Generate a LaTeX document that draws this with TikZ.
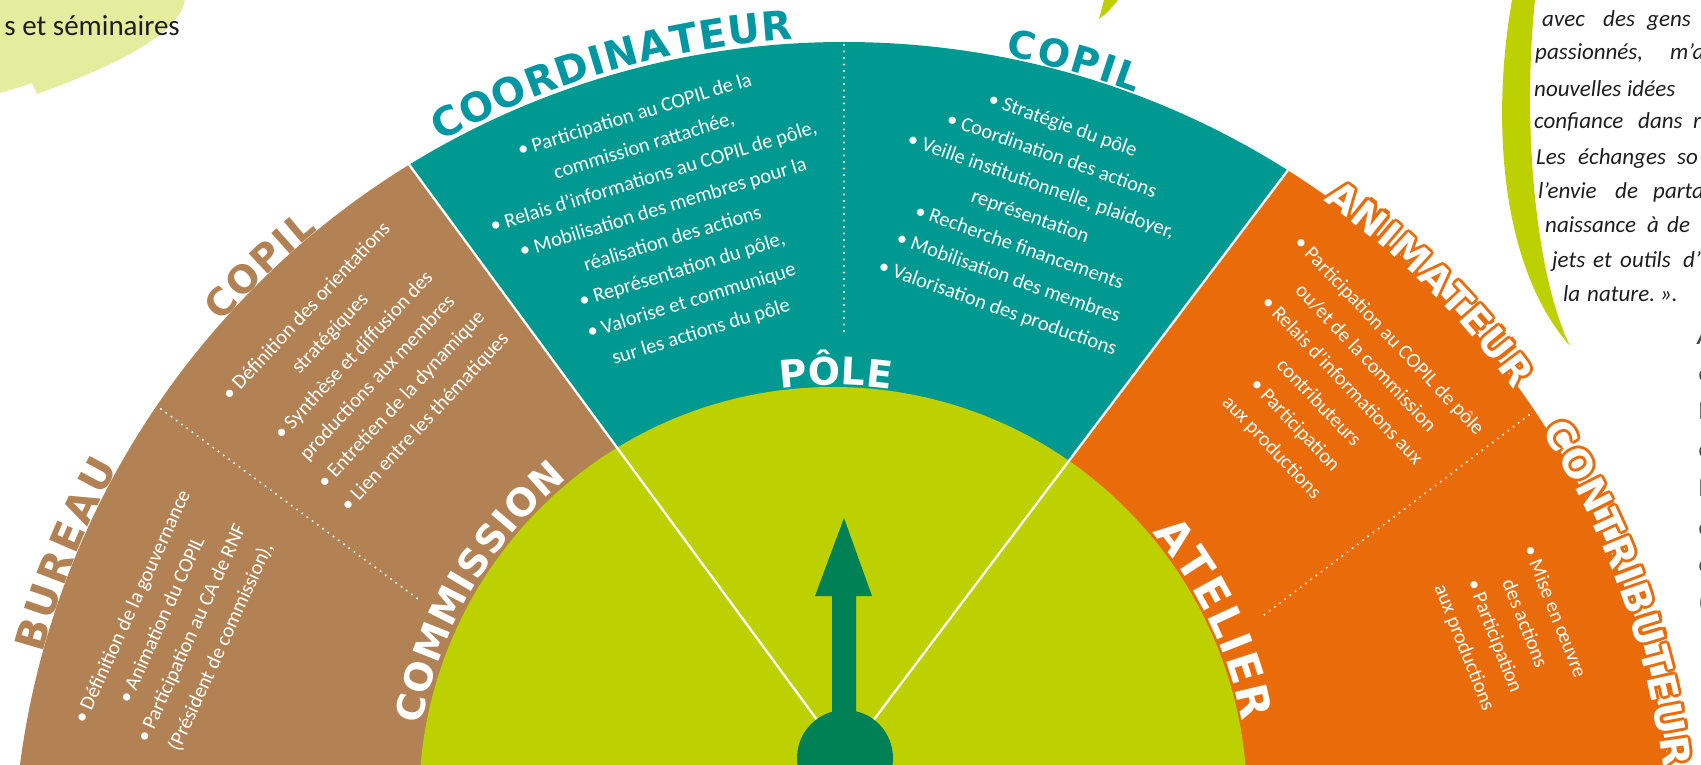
\documentclass[tikz,border=0pt]{standalone}
\usepackage{fontspec}
\setmainfont{Carlito}
\newfontfamily\headfont{DejaVu Sans}
\usetikzlibrary{calc,decorations.text}
\definecolor{cbrown}{RGB}{178,130,84}
\definecolor{cteal}{RGB}{0,153,145}
\definecolor{clabteal}{RGB}{0,150,162}
\definecolor{corange}{RGB}{234,107,10}
\definecolor{cgreen}{RGB}{189,208,0}
\definecolor{chub}{RGB}{0,128,85}
\definecolor{clight}{RGB}{228,236,158}
\definecolor{ctext}{RGB}{30,30,30}
% #1 centre (x,y numbers), #2 radius, #3 start angle, #4 end angle, #5 colour, #6 size, #7 text, #8 alignment
\newcommand\ArcText[8]{%
  \path[decorate,decoration={text along path,text align={#8},text color=#5,
    text={|\headfont\bfseries\fontsize{#6}{#6}\selectfont|#7}}]
    ($(#1)+(#3:#2)$) arc[start angle=#3,end angle=#4,radius=#2];}
\begin{document}
\begin{tikzpicture}[x=1pt,y=1pt,
  body/.style={text=white,align=center,inner sep=0pt,font=\fontsize{20.5}{32.4}\selectfont},
  quote/.style={text=ctext,anchor=base west,inner sep=0pt,font=\itshape\fontsize{23}{26}\selectfont},
  frag/.style={text=ctext!80,anchor=base west,inner sep=0pt,font=\fontsize{24}{26}\selectfont},
  dotline/.style={white,line width=2.2pt,line cap=round,dash pattern=on 0pt off 6.5pt},
  sepline/.style={white,line width=2.3pt}]
\useasboundingbox (0,0) rectangle (1701,764);
\clip (0,0) rectangle (1701,764);
\coordinate (O) at (844,-109);
\coordinate (G) at (833,-37);
\coordinate (H) at (845,6);

% background shapes
\fill[clight] (0,764) -- (185,764) .. controls (178,730) and (120,700) .. (37,670)
  -- (32,681) .. controls (20,677) and (10,674) .. (0,671) -- cycle;
\node[anchor=base east,inner sep=0pt,font=\fontsize{29}{34}\selectfont,text=ctext] (semi) at (180,728) {s et séminaires};
\fill[cgreen] (1512,764) .. controls (1492,650) and (1498,500) .. (1570,418)
  .. controls (1535,490) and (1522,640) .. (1535,764) -- cycle;
\fill[cgreen] (1104,764) .. controls (1101,755) .. (1099,745) .. controls (1108,752) .. (1118,764) -- cycle;

% sectors
\begin{scope}
\clip (O) circle[radius=831];
\fill[cbrown] (H) -- ($(H)+(126.3:2500)$) -- (-1000,2500) -- (-1000,-300) -- (845,-300) -- cycle;
\fill[cteal] (H) -- ($(H)+(126.3:2500)$) -- ($(H)+(53:2500)$) -- cycle;
\fill[corange] (H) -- ($(H)+(53:2500)$) -- (3000,2500) -- (3000,-300) -- (845,-300) -- cycle;
\end{scope}

% outer labels
\ArcText{844,-109}{835}{118.9}{93.5}{clabteal}{40}{COORDINATEUR}{fit to path}
\ArcText{844,-109}{833}{78.8}{69.5}{clabteal}{38}{COPIL}{fit to path}
\ArcText{844,-109}{831}{138.5}{129.3}{cbrown}{38}{COPIL}{fit to path}
\ArcText{844,-109}{831}{164.7}{150.8}{cbrown}{41}{BUREAU}{fit to path}
\foreach \cx/\cy in {847/-109,841/-109,844/-106,844/-112,846.2/-106.8,846.2/-111.2,841.8/-106.8,841.8/-111.2}{
  \ArcText{\cx,\cy}{826}{54.5}{35.8}{corange}{38}{ANIMATEUR}{fit to path}
  \ArcText{\cx,\cy}{826}{32.4}{7.3}{corange}{39}{CONTRIBUTEUR}{fit to path}
}
\ArcText{844,-109}{826}{54.5}{35.8}{white}{38}{ANIMATEUR}{fit to path}
\ArcText{844,-109}{826}{32.4}{7.3}{white}{39}{CONTRIBUTEUR}{fit to path}

% inner green disc
\fill[cgreen] (G) circle[radius=414];

% separators
\begin{scope}
\clip (O) circle[radius=831];
\draw[sepline] (H) -- ++(126.3:1000);
\draw[sepline] (H) -- ++(53:1000);
\end{scope}
\draw[dotline] (844,719) -- (844,429);
\draw[dotline] (161,355) -- (418,165);
\draw[dotline] (1529,349) -- (1264,149);

% texts in sectors
\node[body,rotate=17] (coordtxt) at (668,540) {• Participation au COPIL de la\\commission rattachée,\\• Relais d’informations au COPIL de pôle,\\• Mobilisation des membres pour la\\réalisation des actions\\• Représentation du pôle,\\• Valorise et communique\\sur les actions du pôle};
\node[body,rotate=-19.5] (copiltxt) at (1030,547) {• Stratégie du pôle\\• Coordination des actions\\• Veille institutionnelle, plaidoyer,\\représentation\\• Recherche financements\\• Mobilisation des membres\\• Valorisation des productions};
\node[body,rotate=47] (copilbtxt) at (366,397) {• Définition des orientations\\stratégiques\\• Synthèse et diffusion des\\productions aux membres\\• Entretien de la dynamique\\• Lien entre les thématiques};
\node[body,rotate=65.5] (bureautxt) at (177,137) {• Définition de la gouvernance\\• Animation du COPIL\\• Participation au CA de RNF\\(Président de commission),};
\node[body,rotate=-46.5] (animtxt) at (1330,372) {• Participation au COPIL de pôle\\ou/et de la commission\\• Relais d’informations aux\\contributeurs\\• Participation\\aux productions};
\node[body,rotate=-68.4] (contribtxt) at (1509,134) {• Mise en œuvre\\des actions\\• Participation\\aux productions};

% green labels
\ArcText{833,-37}{418}{169.5}{129.5}{white}{38}{COMMISSION}{fit to path}
\ArcText{833,-37}{417}{40}{11}{white}{44}{ATELIER}{fit to path}
\ArcText{833,-37}{416}{106.3}{72.9}{white}{38}{PÔLE}{center}

% hub and arrow
\fill[chub] (H) circle[radius=48];
\fill[chub] (832,6) -- (832,168) -- (815,168) -- (844,246) -- (872,168) -- (856,168) -- (856,6) -- cycle;

% quote text
\foreach \x/\y/\w [count=\i] in {1542/737/avec,1603/737/des,1647/737/gens,
  1535/704/{passionnés,},1670/704/{m’a},
  1534/667/nouvelles,1627/667/idées,
  1534/635/confiance,1638/635/dans,1693/635/r,
  1536/599/Les,1578/599/échanges,1677/599/so,
  1538/565/{l’envie},1615/565/de,1653/565/parta,
  1545/531/naissance,1647/531/à,1667/531/de,
  1552/496/jets,1593/496/et,1620/496/outils,1683/496/{d’},
  1563/462/la,1587/462/nature.,1660/462/{».}}
  \node[quote] (q\i) at (\x,\y) {\w};

% cut-off fragments at the right edge
\node[frag,font=\bfseries\itshape\fontsize{24}{26}\selectfont] (f1) at (1697,419) {A};
\foreach \y/\w [count=\i from 2] in {382/c,344/l,306/c,267/l,229/c,192/c,154/(}
  \node[frag] (f\i) at (1698.5,\y) {\w};
\end{tikzpicture}
\end{document}
